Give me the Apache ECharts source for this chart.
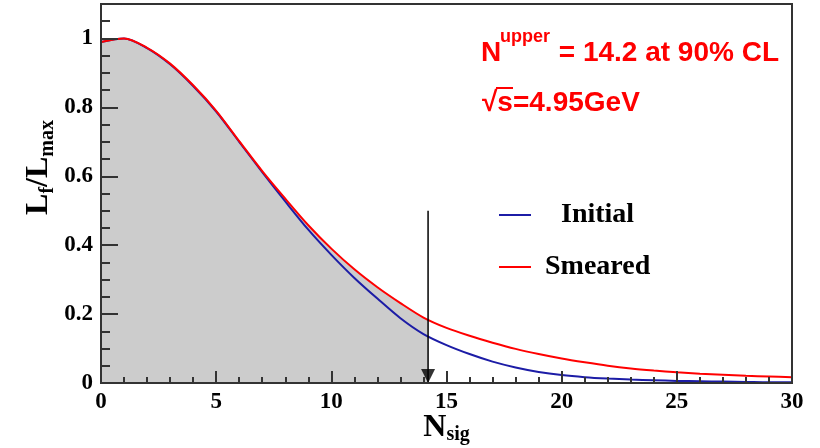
<!DOCTYPE html>
<html><head><meta charset="utf-8">
<script src="https://cdn.jsdelivr.net/npm/echarts@6/dist/echarts.min.js"></script>
<style>html,body{margin:0;padding:0;background:#fff}#c{width:820px;height:448px}</style>
</head><body><div id="c"></div>
<script>
// ---- data ----
const xs = [0,1,2,3,4,5,6,7,8,9,10,11,12,13,14,15,16,17,18,19,20,21,22,23,24,25,26,27,28,29,30];
const initialVals = [0.99,1.0,0.972,0.925,0.862,0.788,0.700,0.612,0.527,0.445,0.372,0.305,0.245,0.188,0.142,0.11,0.084,0.062,0.045,0.032,0.023,0.017,0.013,0.010,0.008,0.006,0.005,0.004,0.003,0.002,0.002];
const smearedVals = [0.99,1.0,0.973,0.927,0.864,0.790,0.702,0.615,0.535,0.458,0.39,0.33,0.278,0.232,0.19,0.16,0.137,0.117,0.099,0.084,0.071,0.06,0.05,0.042,0.036,0.031,0.027,0.024,0.021,0.019,0.017];
const limitX = 14.2;          // N upper
const smearedAtLimit = 0.183; // smeared curve at the limit
const arrowTopY = 0.5;
const yMajorTicks = [0,0.2,0.4,0.6,0.8,1];
const yMinorTicks = [0.05,0.1,0.15,0.25,0.3,0.35,0.45,0.5,0.55,0.65,0.7,0.75,0.85,0.9,0.95,1.05];
const seriesNames = ['Initial','Smeared'];
const annotation1 = ['N','upper',' = 14.2 at 90% CL'];
const annotation2 = '\u221As=4.95GeV';

const initialData = xs.map((x,i)=>[x, initialVals[i]]);
const smearedData = xs.map((x,i)=>[x, smearedVals[i]]);
const shadeData = xs.filter(x=>x<=limitX).map((x,i)=>[x, smearedVals[i]]).concat([[limitX, smearedAtLimit]]);

const serif = '"Liberation Serif", "DejaVu Serif", serif';
const sans = '"Liberation Sans", Arial, sans-serif';
const RED = '#ff0000', BLUE = '#1c1ca6', AXIS = '#333';

const chart = echarts.init(document.getElementById('c'), null, {renderer:'canvas'});
chart.setOption({
  animation:false,
  backgroundColor:'#fff',
  grid:{left:101,right:28,top:4,bottom:65,show:true,borderColor:AXIS,borderWidth:2,backgroundColor:'transparent',outerBoundsMode:'none'},
  xAxis:{
    type:'value',min:0,max:30,interval:5,z:10,
    name:'{m|N}{s|sig}',nameLocation:'middle',nameGap:29,nameMoveOverlap:false,
    nameTextStyle:{rich:{
      m:{fontFamily:serif,fontWeight:'bold',fontSize:32,color:'#000',lineHeight:32,verticalAlign:'top'},
      s:{fontFamily:serif,fontWeight:'bold',fontSize:20,color:'#000',lineHeight:18,padding:[13,0,0,0],verticalAlign:'top'}
    }},
    axisLine:{show:true,lineStyle:{color:AXIS,width:2}},
    axisTick:{show:true,inside:true,length:12,lineStyle:{color:AXIS,width:2}},
    minorTick:{show:true,splitNumber:5,length:6,lineStyle:{color:AXIS,width:2}},
    splitLine:{show:false},minorSplitLine:{show:false},
    axisLabel:{fontFamily:serif,fontWeight:'bold',fontSize:23,color:'#000',margin:8}
  },
  yAxis:[{
    type:'value',min:0,max:1.1,z:10,
    name:'{m|L}{s|f}{m|/L}{s|max}',nameLocation:'middle',nameRotate:90,nameGap:46,nameMoveOverlap:false,
    nameTextStyle:{padding:[0,0,0,52],rich:{
      m:{fontFamily:serif,fontWeight:'bold',fontSize:32,color:'#000',lineHeight:32,verticalAlign:'top'},
      s:{fontFamily:serif,fontWeight:'bold',fontSize:20,color:'#000',lineHeight:20,padding:[15,0,0,0],verticalAlign:'top'}
    }},
    axisLine:{show:true,lineStyle:{color:AXIS,width:2}},
    axisTick:{show:true,inside:true,length:17,customValues:yMajorTicks,lineStyle:{color:AXIS,width:2}},
    splitLine:{show:false},
    axisLabel:{customValues:yMajorTicks,fontFamily:serif,fontWeight:'bold',fontSize:23,color:'#000',margin:8}
  },{
    type:'value',min:0,max:1.1,position:'left',z:10,
    axisLine:{show:false},
    axisTick:{show:true,inside:true,length:9,customValues:yMinorTicks,lineStyle:{color:AXIS,width:2}},
    axisLabel:{show:false},splitLine:{show:false}
  }],
  legend:{
    orient:'vertical',left:494,top:195,itemWidth:32,itemHeight:2,itemGap:22,icon:'rect',
    data:[{name:seriesNames[0],textStyle:{padding:[0,0,0,25]}},{name:seriesNames[1],textStyle:{padding:[0,0,0,9]}}],
    textStyle:{fontFamily:serif,fontWeight:'bold',fontSize:28,color:'#000',lineHeight:30}
  },
  graphic:[
    {type:'text',x:481,y:53,style:{text:annotation1[0],fill:RED,font:'bold 28px '+sans,verticalAlign:'middle'}},
    {type:'text',x:500,y:37,style:{text:annotation1[1],fill:RED,font:'bold 18px '+sans,verticalAlign:'middle'}},
    {type:'text',x:551,y:53,style:{text:annotation1[2],fill:RED,font:'bold 28px '+sans,verticalAlign:'middle'}},
    {type:'text',x:482,y:103,style:{text:annotation2,fill:RED,font:'bold 28px '+sans,verticalAlign:'middle'}},
    {type:'line',shape:{x1:496,y1:88,x2:513,y2:88},style:{stroke:RED,lineWidth:2}}
  ],
  series:[
    {type:'line',name:'shade',data:shadeData,smooth:0.3,symbol:'none',lineStyle:{width:0},areaStyle:{color:'#cccccc',opacity:1},z:1,silent:true},
    {type:'line',name:seriesNames[0],data:initialData,smooth:0.3,symbol:'none',lineStyle:{color:BLUE,width:2},itemStyle:{color:BLUE},z:3},
    {type:'line',name:seriesNames[1],data:smearedData,smooth:0.3,symbol:'none',lineStyle:{color:RED,width:2},itemStyle:{color:RED},z:4},
    {type:'line',name:'arrow',data:[[limitX,arrowTopY],[limitX,0]],symbol:'none',lineStyle:{color:'#000',width:1.5},z:5,silent:true},
    {type:'scatter',name:'arrowhead',data:[[limitX,0]],symbol:'triangle',symbolRotate:180,symbolSize:[14,14],symbolOffset:[0,-7],itemStyle:{color:'#000'},z:6,silent:true}
  ]
});
</script></body></html>
